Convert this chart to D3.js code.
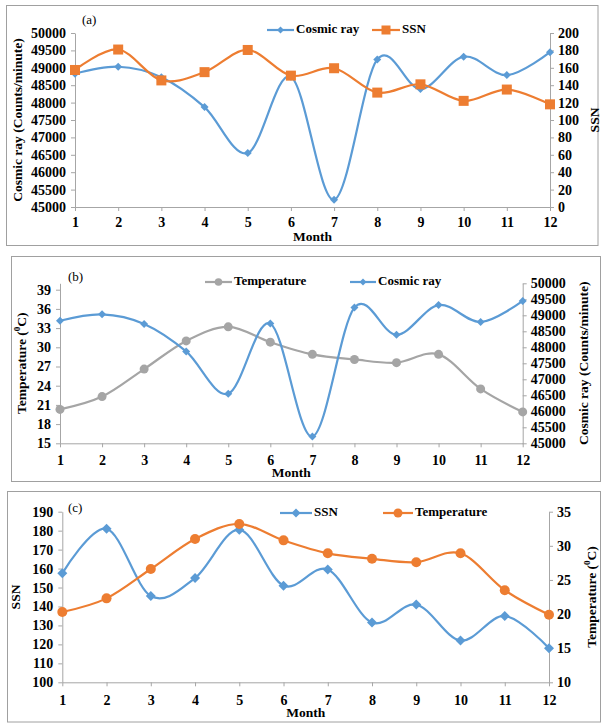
<!DOCTYPE html>
<html><head><meta charset="utf-8">
<script src="https://cdn.jsdelivr.net/npm/d3@7"></script>
<style>
body{margin:0;background:#fff;}
text{font-family:"Liberation Serif","Times New Roman",serif;}
</style></head>
<body><svg id="c" width="601" height="723"></svg>
<script>
// ---- data ----
const months = [1,2,3,4,5,6,7,8,9,10,11,12];
const cosmicRay = [48830,49030,48730,47870,46550,48740,45210,49240,48390,49320,48790,49450];
const ssn = [157.5,181,145.5,155,180.5,151,159.5,131.5,141,122,135,118];
const temperature = [20.3,22.3,26.6,31.0,33.2,30.8,28.9,28.1,27.6,28.9,23.5,19.9];

const crTicks = d3.range(45000,50001,500);
const ssnTicksA = d3.range(0,201,20);
const tempTicksB = d3.range(15,40,3);
const ssnTicksC = d3.range(100,191,10);
const tempTicksC = d3.range(10,36,5);

const BLUE="#5b9bd5", ORANGE="#ed7d31", GRAY="#a5a5a5", AXIS="#a6a6a6";
const svg = d3.select("#c");

function marker(g, type, x, y, s, color){
  if(type==="diamond"){
    g.append("path").attr("d",`M${x},${y-s}L${x+s},${y}L${x},${y+s}L${x-s},${y}Z`).attr("fill",color);
  } else if(type==="square"){
    g.append("rect").attr("x",x-s).attr("y",y-s).attr("width",2*s).attr("height",2*s).attr("fill",color);
  } else {
    g.append("circle").attr("cx",x).attr("cy",y).attr("r",s).attr("fill",color);
  }
}

function titleY(g, x, y, parts){
  const t = g.append("text").attr("transform",`translate(${x},${y}) rotate(-90)`)
    .attr("text-anchor","middle").attr("font-size","13.5px").attr("font-weight","bold");
  parts.forEach(p=>{
    if(p.sup){ t.append("tspan").attr("font-size","9px").attr("dy","-5").text(p.t);
    } else { t.append("tspan").attr("dy", p.after? "5":"0").text(p.t); }
  });
  t.attr("dominant-baseline","middle");
}

function panel(cfg){
  const g = svg.append("g");
  const b = cfg.box;
  g.append("rect").attr("x",b[0]).attr("y",b[1]).attr("width",b[2]-b[0]).attr("height",b[3]-b[1])
    .attr("fill","none").attr("stroke","#a0a0a0").attr("stroke-width",1);
  const p = cfg.plot;
  const x = d3.scaleLinear().domain([1,12]).range([p.x0,p.x1]);
  const yL = d3.scaleLinear().domain(cfg.left.domain).range([p.y1,p.y0]);
  const yR = d3.scaleLinear().domain(cfg.right.domain).range([p.y1,p.y0]);

  const style = sel=>{
    sel.selectAll("path.domain").attr("stroke",AXIS).attr("stroke-width",1);
    sel.selectAll(".tick line").attr("stroke",AXIS);
    sel.selectAll("text").attr("font-family","Liberation Serif").attr("font-size","14px")
      .attr("font-weight","bold").attr("fill","#000");
  };
  g.append("g").attr("transform",`translate(${p.x0},0)`)
    .call(d3.axisLeft(yL).tickValues(cfg.left.ticks).tickSize(4).tickSizeOuter(0).tickPadding(5).tickFormat(d3.format("d")))
    .call(style);
  g.append("g").attr("transform",`translate(${p.x1},0)`)
    .call(d3.axisRight(yR).tickValues(cfg.right.ticks).tickSize(4).tickSizeOuter(0).tickPadding(4).tickFormat(d3.format("d")))
    .call(style);
  g.append("g").attr("transform",`translate(0,${p.y1})`)
    .call(d3.axisBottom(x).tickValues(months).tickSize(4).tickSizeOuter(0).tickPadding(cfg.xpad).tickFormat(d3.format("d")))
    .call(style);

  // series
  cfg.series.forEach(s=>{
    const ys = s.axis==="L"? yL : yR;
    const line = d3.line().x((d,i)=>x(months[i])).y(d=>ys(d)).curve(d3.curveCardinal.tension(0));
    g.append("path").attr("d",line(s.values)).attr("fill","none").attr("stroke",s.color).attr("stroke-width",2.2);
    s.values.forEach((v,i)=>marker(g,s.marker,x(months[i]),ys(v),s.ms,s.color));
  });

  // legend
  cfg.legend.forEach(l=>{
    g.append("line").attr("x1",l.x1).attr("x2",l.x2).attr("y1",l.y).attr("y2",l.y)
      .attr("stroke",l.color).attr("stroke-width",2.2);
    marker(g,l.marker,(l.x1+l.x2)/2,l.y,l.ms,l.color);
    g.append("text").attr("x",l.x2+2).attr("y",l.y).attr("dominant-baseline","middle")
      .attr("font-size","13px").attr("font-weight","bold").text(l.text);
  });

  g.append("text").attr("x",cfg.label[0]).attr("y",cfg.label[1]).attr("font-size","13px").text(cfg.label[2]);
  g.append("text").attr("x",(p.x0+p.x1)/2+0).attr("y",cfg.monthY).attr("text-anchor","middle")
    .attr("font-size","13.5px").attr("font-weight","bold").text("Month");
  titleY(g, cfg.lt[0], (p.y0+p.y1)/2, cfg.lt[1]);
  titleY(g, cfg.rt[0], (p.y0+p.y1)/2, cfg.rt[1]);
}

const tempTitle = [{t:"Temperature ("},{t:"0",sup:true},{t:"C)",after:true}];

panel({
  box:[6.5,5.5,598,245.5],
  plot:{x0:75,x1:550,y0:33,y1:207},
  left:{domain:[45000,50000],ticks:crTicks},
  right:{domain:[0,200],ticks:ssnTicksA},
  xpad:6,
  series:[
    {values:cosmicRay,axis:"L",color:BLUE,marker:"diamond",ms:4},
    {values:ssn,axis:"R",color:ORANGE,marker:"square",ms:5}
  ],
  legend:[
    {x1:267,x2:294,y:30,color:BLUE,marker:"diamond",ms:3.5,text:"Cosmic ray"},
    {x1:372,x2:400,y:30,color:ORANGE,marker:"square",ms:4.5,text:"SSN"}
  ],
  label:[82,24,"(a)"],
  monthY:241,
  lt:[19,[{t:"Cosmic ray (Counts/minute)"}]],
  rt:[596,[{t:"SSN"}]]
});

panel({
  box:[11.5,256.5,600.5,481.5],
  plot:{x0:60,x1:522.7,y0:283.3,y1:443.3},
  left:{domain:[15,40],ticks:tempTicksB},
  right:{domain:[45000,50000],ticks:crTicks},
  xpad:8,
  series:[
    {values:temperature,axis:"L",color:GRAY,marker:"circle",ms:4.5},
    {values:cosmicRay,axis:"R",color:BLUE,marker:"diamond",ms:4}
  ],
  legend:[
    {x1:205,x2:232,y:282,color:GRAY,marker:"circle",ms:3.8,text:"Temperature"},
    {x1:350,x2:376,y:282,color:BLUE,marker:"diamond",ms:3.5,text:"Cosmic ray"}
  ],
  label:[68,281,"(b)"],
  monthY:477,
  lt:[23,tempTitle],
  rt:[585,[{t:"Cosmic ray (Counts/minute)"}]]
});

panel({
  box:[7.5,491.5,600.5,722],
  plot:{x0:62.3,x1:549,y0:511.7,y1:682.3},
  left:{domain:[100,190],ticks:ssnTicksC},
  right:{domain:[10,35],ticks:tempTicksC},
  xpad:9,
  series:[
    {values:ssn,axis:"L",color:BLUE,marker:"diamond",ms:5},
    {values:temperature,axis:"R",color:ORANGE,marker:"circle",ms:5}
  ],
  legend:[
    {x1:280,x2:312,y:513,color:BLUE,marker:"diamond",ms:4.5,text:"SSN"},
    {x1:383,x2:413,y:513,color:ORANGE,marker:"circle",ms:4.5,text:"Temperature"}
  ],
  label:[68,512,"(c)"],
  monthY:717,
  lt:[17,[{t:"SSN"}]],
  rt:[593,tempTitle]
});
</script></body></html>
